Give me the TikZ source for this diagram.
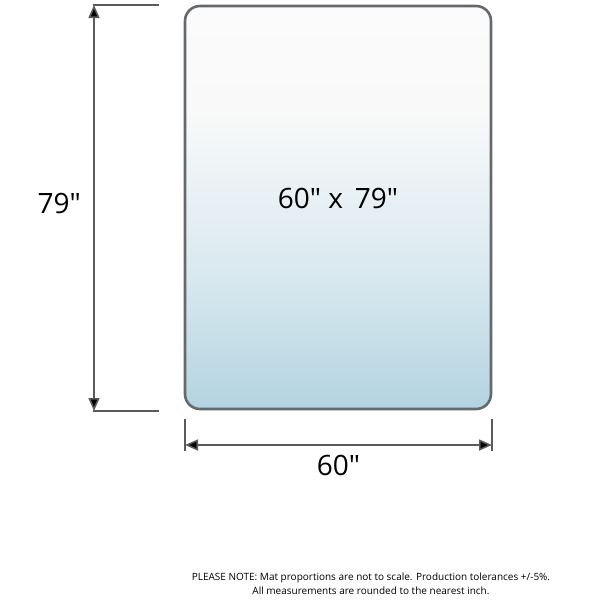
\documentclass[tikz,border=0pt]{standalone}
\usepackage{fontspec}
\setmainfont{Open Sans}[Ligatures=TeXOff]
\usepackage{tikz}
\usetikzlibrary{arrows.meta}
\definecolor{matblue}{HTML}{B3D3E0}
\definecolor{matedge}{HTML}{65696D}
\definecolor{dimline}{HTML}{5A5A5A}
\pgfdeclareverticalshading{matfill}{100bp}{color(0bp)=(matblue); color(25bp)=(matblue); color(42bp)=(matblue!50!white); color(62bp)=(white!96!matedge); color(100bp)=(white)}
\newcommand{\inch}{"}

\begin{document}
\begin{tikzpicture}[%
    x=1pt, y=-1pt,
    mat/.style={
      rectangle,
      draw=matedge,
      line width=2.6pt,
      rounded corners=15pt,
      shading=matfill,
      minimum width=306pt,
      minimum height=403pt,
      inner sep=0pt
    },
    mattext/.style={font=\fontsize{28}{32}\selectfont},
    extline/.style={draw=dimline, line width=1.4pt},
    dimarrow/.style={draw=dimline, line width=1.6pt, <->},
    dimlabel/.style={font=\fontsize{28}{32}\selectfont},
    >={Triangle[length=13pt,width=11pt,fill=black]}
    ]
    \useasboundingbox (0,0) rectangle (600,600);
    \node[mat] (mat) at (338,207.5) {};
    \node[mattext, yshift=9pt] (size) at (mat.center) {60\inch{} x\, 79\inch};

    % extension lines
    \coordinate (hitop) at (93,5);
    \coordinate (hibot) at (93,411);
    \coordinate (vleft) at (185,419);
    \coordinate (vright) at (492,419);
    \draw[extline] (hitop) -- (159,5);
    \draw[extline] (hibot) -- (159,411);
    \draw[extline] (vleft) -- (185,451);
    \draw[extline] (vright) -- (492,451);

    % dimensions
    \draw[dimarrow] (94,5) -- (94,411) node[pos=0.49,left=9pt,dimlabel] (h) {79\inch};
    \draw[dimarrow] (185,445) -- (492,445) node[midway,below=6pt,dimlabel] (w) {60\inch};

    \node[font=\fontsize{10}{14}\selectfont, align=center] (note) at (371,584)
      {PLEASE NOTE: Mat proportions are not to scale. Production tolerances +/-5\%.\\
       All measurements are rounded to the nearest inch.};
  \end{tikzpicture}
\end{document}
